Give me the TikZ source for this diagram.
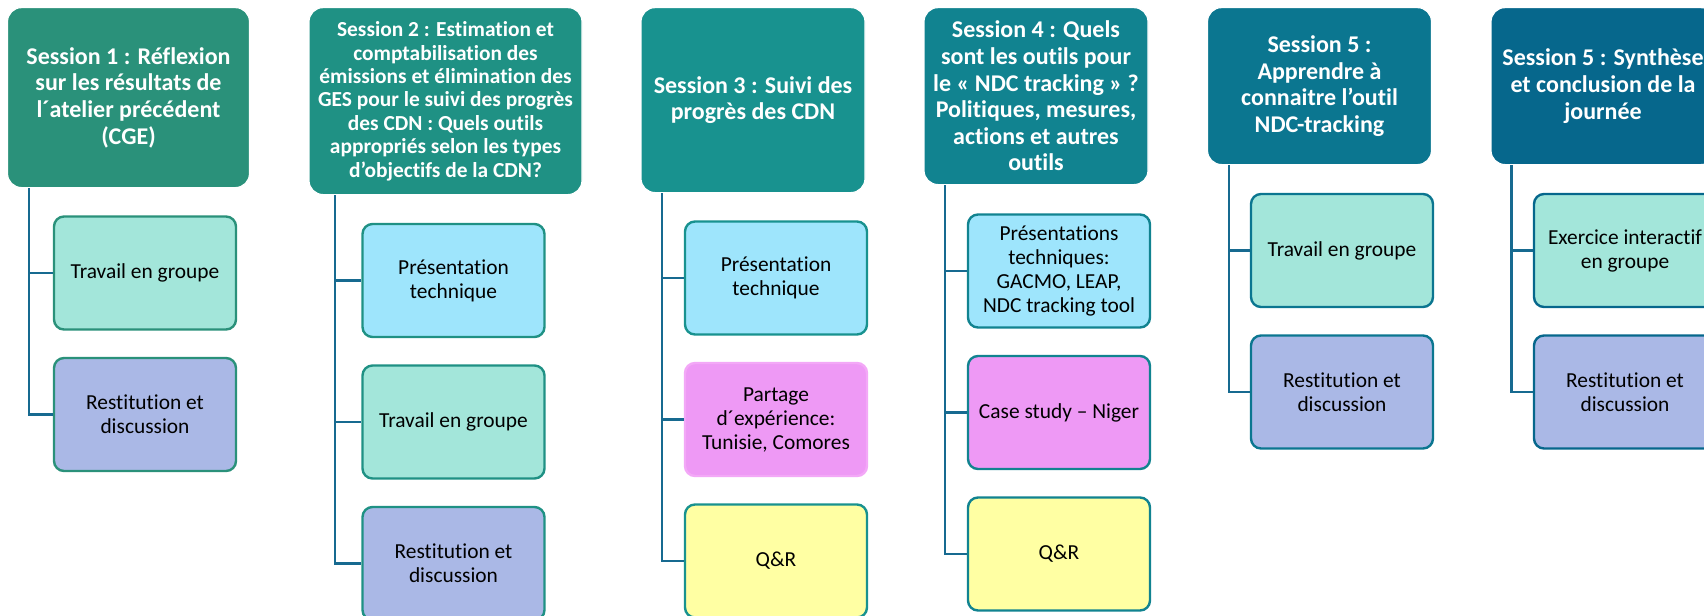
\documentclass[tikz,border=0pt]{standalone}
\usepackage{fontspec}
\setmainfont{Carlito}[Ligatures=NoCommon]
\usepackage{tikz}
\usetikzlibrary{positioning}
\definecolor{sessA}{HTML}{2A917A}
\definecolor{sessB}{HTML}{1F9184}
\definecolor{sessC}{HTML}{18928F}
\definecolor{sessD}{HTML}{118390}
\definecolor{sessE}{HTML}{0B7690}
\definecolor{sessF}{HTML}{06678C}
\definecolor{mint}{HTML}{A3E6DA}
\definecolor{sky}{HTML}{9EE5FC}
\definecolor{lavender}{HTML}{AAB8E6}
\definecolor{orchid}{HTML}{EE99F5}
\definecolor{orchidline}{HTML}{F3A8F7}
\definecolor{butter}{HTML}{FFFFA3}
\definecolor{trunk}{HTML}{176A90}
\tikzstyle{session} = [rectangle, draw=white, line width=0.6pt, rounded corners=7pt,
    text=white, align=center, inner sep=2pt, anchor=north,
    font=\bfseries\fontsize{12}{13.3}\selectfont]
\tikzstyle{task} = [rectangle, line width=1.2pt, rounded corners=5pt, align=center,
    minimum width=91pt, minimum height=56.5pt, inner sep=2pt,
    font=\fontsize{10.7}{12}\selectfont]
\tikzstyle{group} = [task, fill=mint]
\tikzstyle{talk} = [task, fill=sky]
\tikzstyle{debrief} = [task, fill=lavender]
\tikzstyle{share} = [task, fill=orchid]
\tikzstyle{qa} = [task, fill=butter]
\tikzstyle{link} = [draw=trunk, line width=1.3pt]
\begin{document}
\begin{tikzpicture}[x=0.5pt, y=-0.5pt, node distance=70.75pt]
    \useasboundingbox (0,0) rectangle (1704,616);
    % Sessions
    \node [session, fill=sessA, minimum width=121pt, minimum height=90pt] (h1) at (128.5,7)
        {Session 1 : Réflexion\\sur les résultats de\\l´atelier précédent\\(CGE)};
    \node [session, fill=sessB, minimum width=136.5pt, minimum height=93.5pt,
        font=\bfseries\fontsize{10.7}{11.7}\selectfont] (h2) at (445.5,7)
        {Session 2 : Estimation et\\comptabilisation des\\émissions et élimination des\\GES pour le suivi des progrès\\des CDN : Quels outils\\appropriés selon les types\\d’objectifs de la CDN?};
    \node [session, fill=sessC, minimum width=112pt, minimum height=92.5pt] (h3) at (753,7)
        {Session 3 : Suivi des\\progrès des CDN};
    \node [session, fill=sessD, minimum width=112pt, minimum height=88.5pt] (h4) at (1036,7)
        {Session 4 : Quels\\sont les outils pour\\le « NDC tracking » ?\\Politiques, mesures,\\actions et autres\\outils};
    \node [session, fill=sessE, minimum width=112pt, minimum height=78.5pt] (h5) at (1319.5,7)
        {Session 5 :\\Apprendre à\\connaitre l’outil\\NDC-tracking};
    \node [session, fill=sessF, minimum width=112pt, minimum height=78.5pt] (h6) at (1603,7)
        {Session 5 : Synthèse\\et conclusion de la\\journée};

    % Activities
    \node [group, draw=sessA] (c11) at (145,273) {Travail en groupe};
    \node [debrief, draw=sessA, below of=c11] (c12) {Restitution et\\discussion};

    \node [talk, draw=sessB] (c21) at (453.5,280.5) {Présentation\\technique};
    \node [group, draw=sessB, below of=c21] (c22) {Travail en groupe};
    \node [debrief, draw=sessB, below of=c22] (c23) {Restitution et\\discussion};

    \node [talk, draw=sessC] (c31) at (776,278) {Présentation\\technique};
    \node [share, draw=orchidline, below of=c31] (c32) {Partage\\d´expérience:\\Tunisie, Comores};
    \node [qa, draw=sessC, below of=c32] (c33) {Q\&R};

    \node [talk, draw=sessD] (c41) at (1059,271) {Présentations\\techniques:\\GACMO, LEAP,\\NDC tracking tool};
    \node [share, draw=sessD, below of=c41] (c42) {Case study – Niger};
    \node [qa, draw=sessD, below of=c42] (c43) {Q\&R};

    \node [group, draw=sessE] (c51) at (1342,250.5) {Travail en groupe};
    \node [debrief, draw=sessE, below of=c51] (c52) {Restitution et\\discussion};

    \node [group, draw=sessF] (c61) at (1625,250.5) {Exercice interactif\\en groupe};
    \node [debrief, draw=sessF, below of=c61] (c62) {Restitution et\\discussion};

    % Trunks
    \coordinate (t1) at ([xshift=11pt]h1.south west);
    \coordinate (t2) at ([xshift=13.25pt]h2.south west);
    \coordinate (t3) at ([xshift=10.75pt]h3.south west);
    \coordinate (t4) at ([xshift=10.75pt]h4.south west);
    \coordinate (t5) at ([xshift=11pt]h5.south west);
    \coordinate (t6) at ([xshift=10.5pt]h6.south west);

    % Draw edges
    \draw [link] (t1) |- (c11.west);
    \draw [link] (t1) |- (c12.west);
    \draw [link] (t2) |- (c21.west);
    \draw [link] (t2) |- (c22.west);
    \draw [link] (t2) |- (c23.west);
    \draw [link] (t3) |- (c31.west);
    \draw [link] (t3) |- (c32.west);
    \draw [link] (t3) |- (c33.west);
    \draw [link] (t4) |- (c41.west);
    \draw [link] (t4) |- (c42.west);
    \draw [link] (t4) |- (c43.west);
    \draw [link] (t5) |- (c51.west);
    \draw [link] (t5) |- (c52.west);
    \draw [link] (t6) |- (c61.west);
    \draw [link] (t6) |- (c62.west);
\end{tikzpicture}
\end{document}
